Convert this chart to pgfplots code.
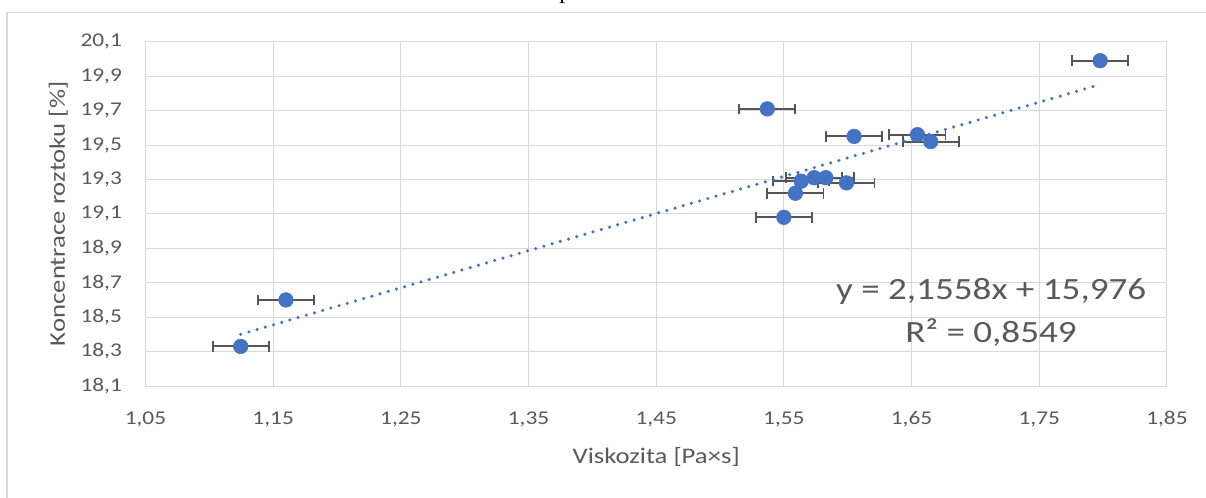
\documentclass[border=0pt]{standalone}
\usepackage{pgfplots}
\pgfplotsset{compat=1.18}
\usepackage{fontspec}
\setmainfont{Carlito}[FakeStretch=1.2]
\newfontfamily\seriffont{Liberation Serif}
\definecolor{txt}{RGB}{89,89,89}
\definecolor{grd}{RGB}{217,217,217}
\definecolor{blu}{RGB}{68,114,196}
\definecolor{errc}{RGB}{85,85,85}
\begin{document}
\begin{tikzpicture}[x=1pt,y=1pt]
\useasboundingbox (0,0) rectangle (904.5,372.75);
\clip (0,0) rectangle (904.5,372.75);
\draw[grd, line width=1.2pt] (5.25,-5) -- (5.25,363.4) -- (915,363.4);
\node[anchor=base west, inner sep=0pt, font=\seriffont\fontsize{18}{18}\selectfont] at (419.3,373.65) {p};
\begin{axis}[
  at={(109.1pt,83.25pt)}, anchor=south west,
  scale only axis, width=766.1pt, height=258.2pt,
  xmin=1.05, xmax=1.85, ymin=18.1, ymax=20.1,
  axis line style={grd, line width=0.75pt},
  grid=major, major grid style={grd, line width=0.75pt},
  major tick length=0pt, tick style={draw=none},
  ticklabel style={font=\fontsize{14.6}{14.6}\selectfont, text=txt},
  xtick={1.05,1.15,1.25,1.35,1.45,1.55,1.65,1.75,1.85},
  xticklabels={{1,05},{1,15},{1,25},{1,35},{1,45},{1,55},{1,65},{1,75},{1,85}},
  ytick={18.1,18.3,18.5,18.7,18.9,19.1,19.3,19.5,19.7,19.9,20.1},
  yticklabels={{18,1},{18,3},{18,5},{18,7},{18,9},{19,1},{19,3},{19,5},{19,7},{19,9},{20,1}},
  xticklabel style={anchor=north, inner sep=0pt, yshift=-19pt},
  yticklabel style={anchor=east, inner sep=0pt, xshift=-17.5pt},
  xlabel={Viskozita [Pa×s]},
  ylabel={Koncentrace roztoku [\%]},
  label style={font=\fontsize{16.7}{16.7}\selectfont, text=txt},
  xlabel style={at={(axis description cs:0.5,-0.2237)}, anchor=base},
  ylabel style={at={(axis description cs:-0.0788,0.5)}, anchor=base},
]
\addplot[blu, only marks, mark=*, mark size=5.5pt, mark options={fill=blu, draw=blu},
  error bars/.cd, x dir=both, x fixed=0.022, error mark=|,
  error bar style={errc, line width=1.4pt},
  error mark options={errc, line width=1.4pt, mark size=4pt}]
coordinates {
(1.1246,18.33)
(1.160,18.60)
(1.537,19.71)
(1.550,19.08)
(1.559,19.22)
(1.5636,19.29)
(1.5737,19.31)
(1.5829,19.31)
(1.599,19.28)
(1.605,19.55)
(1.6546,19.56)
(1.665,19.52)
(1.7977,19.99)
};
\addplot[blu, line width=2.6pt, line cap=round, dash pattern=on 0pt off 6.4pt]
coordinates {(1.1246,18.4004) (1.7977,19.8515)};
\node[anchor=base, inner sep=0pt, font=\fontsize{23.2}{23.2}\selectfont, text=txt] at (axis cs:1.7123,18.604) {y = 2,1558x + 15,976};
\node[anchor=base, inner sep=0pt, font=\fontsize{23.2}{23.2}\selectfont, text=txt] at (axis cs:1.7123,18.35) {R² = 0,8549};
\end{axis}
\end{tikzpicture}
\end{document}
